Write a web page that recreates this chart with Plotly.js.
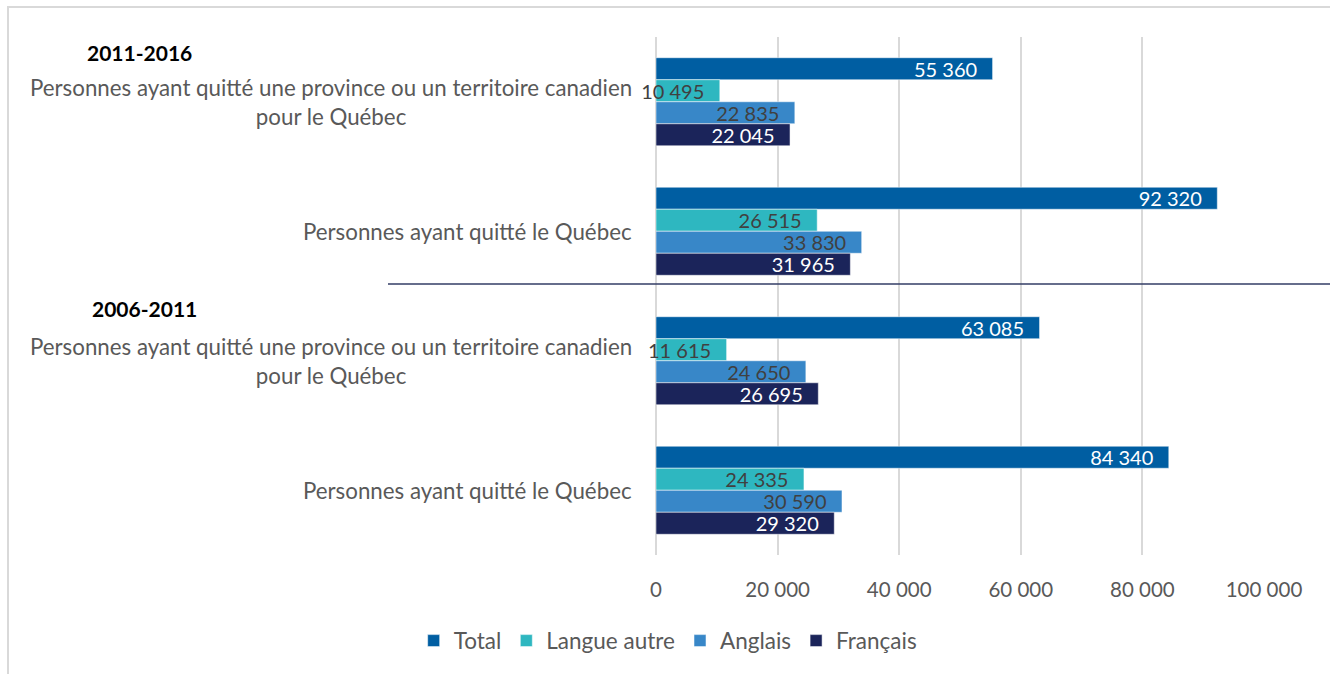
<!DOCTYPE html>
<html><head><meta charset="utf-8">
<script src="https://cdn.plot.ly/plotly-3.0.1.min.js"></script>
<style>
html,body{margin:0;padding:0;background:#fff;overflow:hidden;}
#frame{position:absolute;left:7px;top:6px;width:1500px;height:900px;border-left:2px solid #d9d9d9;border-top:2px solid #d9d9d9;}
#chart{position:absolute;left:0;top:0;width:1330px;height:674px;}
</style></head>
<body>
<div id="frame"></div>
<div id="chart"></div>
<script>
// Categories (top to bottom)
const categories = ["g1", "g2", "g3", "g4"];
const categoryLabels = [
  "Personnes ayant quitté une province ou un territoire canadien<br>pour le Québec",
  "Personnes ayant quitté le Québec",
  "Personnes ayant quitté une province ou un territoire canadien<br>pour le Québec",
  "Personnes ayant quitté le Québec"
];
const periodLabels = ["2011-2016", "2006-2011"];
const seriesNames = ["Total", "Langue autre", "Anglais", "Français"];
const total = [55360, 92320, 63085, 84340];
const langueAutre = [10495, 26515, 11615, 24335];
const anglais = [22835, 33830, 24650, 30590];
const francais = [22045, 31965, 26695, 29320];
const xTicks = [0, 20000, 40000, 60000, 80000, 100000];

const colors = ["#005EA2", "#2EB7C0", "#3887C8", "#1B245A"];
const textColors = ["#ffffff", "#404040", "#404040", "#ffffff"];
const FONT = "Lato, 'Open Sans', sans-serif";

function fmt(v){ return String(v).replace(/\B(?=(\d{3})+(?!\d))/g, " "); }

const seriesValues = [total, langueAutre, anglais, francais];
const traces = seriesValues.map((vals, i) => ({
  type: "bar",
  orientation: "h",
  name: seriesNames[i],
  y: categories,
  x: vals,
  text: vals.map(v => fmt(v) + "\u2002\u2009"),
  textposition: "inside",
  insidetextanchor: "end",
  constraintext: "none",
  cliponaxis: false,
  textfont: {family: FONT, size: 20, color: textColors[i]},
  marker: {color: colors[i], line: {color: "rgba(255,255,255,0.5)", width: 1}},
  hoverinfo: "x+name"
}));

const annotations = categories.map((c, i) => ({
  xref: "paper", yref: "y", x: 0, y: c, xanchor: "right", yanchor: "middle",
  xshift: -22, text: categoryLabels[i], align: "center", showarrow: false,
  font: {family: FONT, size: 22.3, color: "#595959"}
}));
annotations.push({
  xref: "paper", yref: "paper", x: -0.8487, y: 0.971, xanchor: "center", yanchor: "middle",
  text: "<b>" + periodLabels[0] + "</b>", showarrow: false,
  font: {family: FONT, size: 21, color: "#000000"}
});
annotations.push({
  xref: "paper", yref: "paper", x: -0.8405, y: 0.4768, xanchor: "center", yanchor: "middle",
  text: "<b>" + periodLabels[1] + "</b>", showarrow: false,
  font: {family: FONT, size: 21, color: "#000000"}
});

const layout = {
  width: 1330, height: 674,
  margin: {l: 656, r: 66, t: 37, b: 119, pad: 0},
  paper_bgcolor: "rgba(0,0,0,0)", plot_bgcolor: "rgba(0,0,0,0)",
  separators: ", ",
  barmode: "group", bargap: 0.32, bargroupgap: 0,
  font: {family: FONT, size: 20, color: "#595959"},
  xaxis: {
    range: [0, 100000], tickvals: xTicks, ticktext: xTicks.map(fmt),
    showgrid: true, gridcolor: "#d9d9d9", gridwidth: 2,
    zeroline: true, zerolinecolor: "#d9d9d9", zerolinewidth: 2,
    showline: false, ticks: "", ticklabelstandoff: 20,
    tickfont: {family: FONT, size: 20.5, color: "#595959"}, fixedrange: true
  },
  yaxis: {
    type: "category", categoryorder: "array", categoryarray: categories,
    autorange: "reversed", showticklabels: false, showgrid: false, zeroline: false,
    ticks: "", fixedrange: true
  },
  legend: {
    orientation: "h", x: 0.02, xanchor: "center", y: -0.166, yanchor: "middle",
    font: {family: FONT, size: 22.5, color: "#595959"}, traceorder: "normal"
  },
  shapes: [{
    type: "line", xref: "paper", yref: "paper",
    x0: -0.4408, x1: 1.11, y0: 0.5232, y1: 0.5232,
    line: {color: "#333d66", width: 1.5}
  }],
  annotations: annotations,
  showlegend: true
};

Plotly.newPlot("chart", traces, layout, {displayModeBar: false});
</script>
</body></html>
